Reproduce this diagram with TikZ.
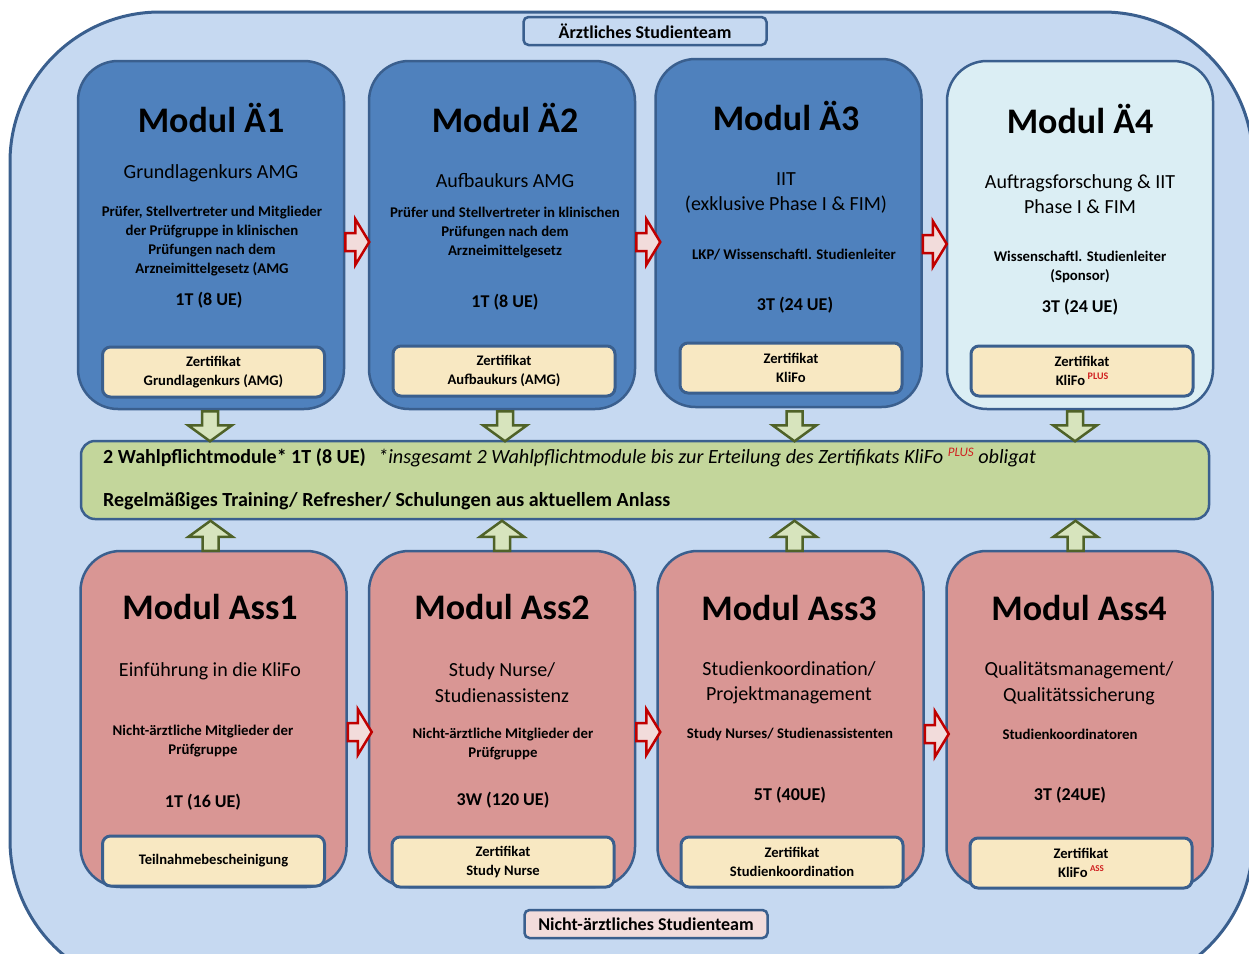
\documentclass[tikz,border=0pt]{standalone}
\usepackage{fontspec}
\setmainfont{Carlito}
\usetikzlibrary{calc}
\definecolor{bgblue}{HTML}{C6D9F1}
\definecolor{bord}{HTML}{3A5F8E}
\definecolor{ablue}{HTML}{4F81BD}
\definecolor{acyan}{HTML}{DBEEF4}
\definecolor{apink}{HTML}{D99694}
\definecolor{certc}{HTML}{F8E8C2}
\definecolor{barg}{HTML}{C3D69B}
\definecolor{garf}{HTML}{D7E4BD}
\definecolor{garb}{HTML}{4F6228}
\definecolor{rarf}{HTML}{F2DCDB}
\definecolor{rarb}{HTML}{C00000}
\definecolor{labpink}{HTML}{F2DCDB}
\definecolor{plusred}{HTML}{D02020}
\newcommand{\supred}[2]{\raisebox{#1}{\color{plusred}\fontsize{#2}{#2}\selectfont}}
\newcommand{\plusmark}[3]{\raisebox{#1}{\color{plusred}\fontsize{#2}{#2}\selectfont #3}}
\begin{document}
\begin{tikzpicture}[x=1pt,y=-1pt,
  outerbox/.style={draw=bord, line width=3pt, fill=bgblue, rounded corners=150pt},
  modbox/.style={draw=bord, line width=2.5pt, rounded corners=40pt, minimum width=266pt, inner sep=0pt},
  modA/.style={modbox, fill=ablue, minimum height=348pt},
  modB/.style={modbox, fill=apink, minimum height=336pt},
  certbox/.style={draw=bord, line width=3pt, fill=certc, rounded corners=8pt, minimum width=222pt, minimum height=50pt, inner sep=0pt, align=center, font=\bfseries\fontsize{14.6}{19}\selectfont},
  labbox/.style={draw=bord, line width=2.5pt, rounded corners=5pt, minimum width=243pt, minimum height=28pt, inner sep=0pt, font=\bfseries\fontsize{18}{20}\selectfont},
  barbox/.style={draw=bord, line width=2.5pt, fill=barg, rounded corners=14pt, minimum width=1128pt, minimum height=78pt, inner sep=0pt},
  ttl/.style={inner sep=0pt, font=\bfseries\fontsize{36}{40}\selectfont},
  sub/.style={inner sep=0pt, align=center, font=\fontsize{20}{25.5}\selectfont},
  desc/.style={inner sep=0pt, align=center, font=\bfseries\fontsize{14.8}{19}\selectfont},
  dur/.style={inner sep=0pt, font=\bfseries\fontsize{18}{22}\selectfont},
  bartxt/.style={inner sep=0pt, anchor=west, font=\bfseries\fontsize{20}{24}\selectfont},
  garrowst/.style={draw=garb, line width=2.5pt, fill=garf, line join=miter},
  rarrowst/.style={draw=rarb, line width=2.5pt, fill=rarf, line join=miter},
  pics/gdown/.style={code={\draw[garrowst] (-8,0) -- (-8,14) -- (-22,14) -- (0,30) -- (22,14) -- (8,14) -- (8,0) -- cycle;}},
  pics/gup/.style={code={\draw[garrowst] (-8,0) -- (-8,-14) -- (-22,-14) -- (0,-30) -- (22,-14) -- (8,-14) -- (8,0) -- cycle;}},
  pics/rright/.style={code={\draw[rarrowst] (0,-9) -- (10,-9) -- (10,-23) -- (24,0) -- (10,23) -- (10,9) -- (0,9) -- cycle;}}
]
\useasboundingbox (0,0) rectangle (1249,953);
\clip (0,0) rectangle (1249,953);
% outer frame
\draw[outerbox] (10,12) rectangle (1253,990);
\node[labbox, fill=bgblue] (labA) at (645,31) {Ärztliches Studienteam};
\node[labbox, fill=labpink] (labB) at (646,924) {Nicht-ärztliches Studienteam};

% top modules
\node[modA] (A1) at (211,235) {};
\node[modA] (A2) at (502,235) {};
\node[modA] (A3) at (788.5,233) {};
\node[modA, fill=acyan] (A4) at (1080,235) {};
% bottom modules
\node[modB] (B1) at (213.5,719) {};
\node[modB] (B2) at (502,719) {};
\node[modB] (B3) at (790.5,719) {};
\node[modB] (B4) at (1079.5,719) {};
% middle bar
\node[barbox] (bar) at (645,480) {};

% red arrows
\pic at ($(A1.east)+(0,7)$) {rright};
\pic at ($(A2.east)+(0,7)$) {rright};
\pic at ($(A3.east)+(0,11)$) {rright};
\pic at ($(B1.east)+(0,13)$) {rright};
\pic at ($(B2.east)+(0,13)$) {rright};
\pic at ($(B3.east)+(0,15)$) {rright};

% green arrows
\pic at ($(A1.south)+(-1,1)$) {gdown};
\pic at ($(A2.south)+(3,1)$) {gdown};
\pic at ($(A3.south)+(6,3)$) {gdown};
\pic at ($(A4.south)+(-5,1)$) {gdown};
\pic at ($(B1.north)+(-3,1)$) {gup};
\pic at ($(B2.north)+(0,1)$) {gup};
\pic at ($(B3.north)+(4,1)$) {gup};
\pic at ($(B4.north)+(-4,1)$) {gup};

% certificates
\node[certbox] (C1) at (213.5,372) {Zertifikat\\Grundlagenkurs (AMG)};
\node[certbox] (C2) at (504,371) {Zertifikat\\Aufbaukurs (AMG)};
\node[certbox] (C3) at (791,368) {Zertifikat\\KliFo};
\node[certbox] (C4) at (1082,371) {Zertifikat\\KliFo\,\plusmark{6pt}{10}{PLUS}};
\node[certbox] (D1) at (213.5,861) {Teilnahmebescheinigung};
\node[certbox] (D2) at (503,862) {Zertifikat\\Study Nurse};
\node[certbox] (D3) at (792,862) {Zertifikat\\Studienkoordination};
\node[certbox] (D4) at (1081,863) {Zertifikat\\KliFo\,\plusmark{6pt}{9}{ASS}};

% A1 texts
\node[ttl] (t1) at (211,118) {Modul Ä1};
\node[sub] (s1) at (211,173) {Grundlagenkurs AMG};
\node[desc] (d1) at (212,241) {Prüfer, Stellvertreter und Mitglieder\\der Prüfgruppe in klinischen\\Prüfungen nach dem\\Arzneimittelgesetz (AMG};
\node[dur] (u1) at (209,300) {1T (8 UE)};
% A2 texts
\node[ttl] (t2) at (505,118) {Modul Ä2};
\node[sub] (s2) at (505,181) {Aufbaukurs AMG};
\node[desc] (d2) at (505,233) {Prüfer und Stellvertreter in klinischen\\Prüfungen nach dem\\Arzneimittelgesetz};
\node[dur] (u2) at (505,302) {1T (8 UE)};
% A3 texts
\node[ttl] (t3) at (786,116) {Modul Ä3};
\node[sub] (s3) at (786,193) {IIT\\(exklusive Phase I \& FIM)};
\node[desc] (d3) at (794,255) {LKP/ Wissenschaftl. Studienleiter};
\node[dur] (u3) at (795,305) {3T (24 UE)};
% A4 texts
\node[ttl] (t4) at (1080,119) {Modul Ä4};
\node[sub] (s4) at (1080,194) {Auftragsforschung \& IIT\\Phase I \& FIM};
\node[desc] (d4) at (1080,266.5) {Wissenschaftl. Studienleiter\\(Sponsor)};
\node[dur] (u4) at (1080,307) {3T (24 UE)};

% bar texts
\node[bartxt] (w1) at (103,458) {2 Wahlpflichtmodule* 1T (8 UE)};
\node[bartxt, font=\itshape\fontsize{20.2}{24}\selectfont] (w2) at (378,458) {*insgesamt 2 Wahlpflichtmodule bis zur Erteilung des Zertifikats KliFo \plusmark{7pt}{13}{PLUS} obligat};
\node[bartxt] (w3) at (103,501) {Regelmäßiges Training/ Refresher/ Schulungen aus aktuellem Anlass};

% B1 texts
\node[ttl] (v1) at (210,607) {Modul Ass1};
\node[sub] (r1) at (210,671) {Einführung in die KliFo};
\node[desc] (e1) at (203,741.5) {Nicht-ärztliche Mitglieder der\\Prüfgruppe};
\node[dur] (k1) at (203,802) {1T (16 UE)};
% B2 texts
\node[ttl] (v2) at (502,607) {Modul Ass2};
\node[sub] (r2) at (502,682.5) {Study Nurse/\\Studienassistenz};
\node[desc] (e2) at (503,744.5) {Nicht-ärztliche Mitglieder der\\Prüfgruppe};
\node[dur] (k2) at (503,800) {3W (120 UE)};
% B3 texts
\node[ttl] (v3) at (789,608) {Modul Ass3};
\node[sub] (r3) at (789,683) {Studienkoordination/\\Projektmanagement};
\node[desc] (e3) at (790,734) {Study Nurses/ Studienassistenten};
\node[dur] (k3) at (790,795) {5T (40UE)};
% B4 texts
\node[ttl] (v4) at (1079,608) {Modul Ass4};
\node[sub] (r4) at (1079,683.5) {Qualitätsmanagement/\\Qualitätssicherung};
\node[desc] (e4) at (1070,734) {Studienkoordinatoren};
\node[dur] (k4) at (1070,795) {3T (24UE)};
\end{tikzpicture}
\end{document}
